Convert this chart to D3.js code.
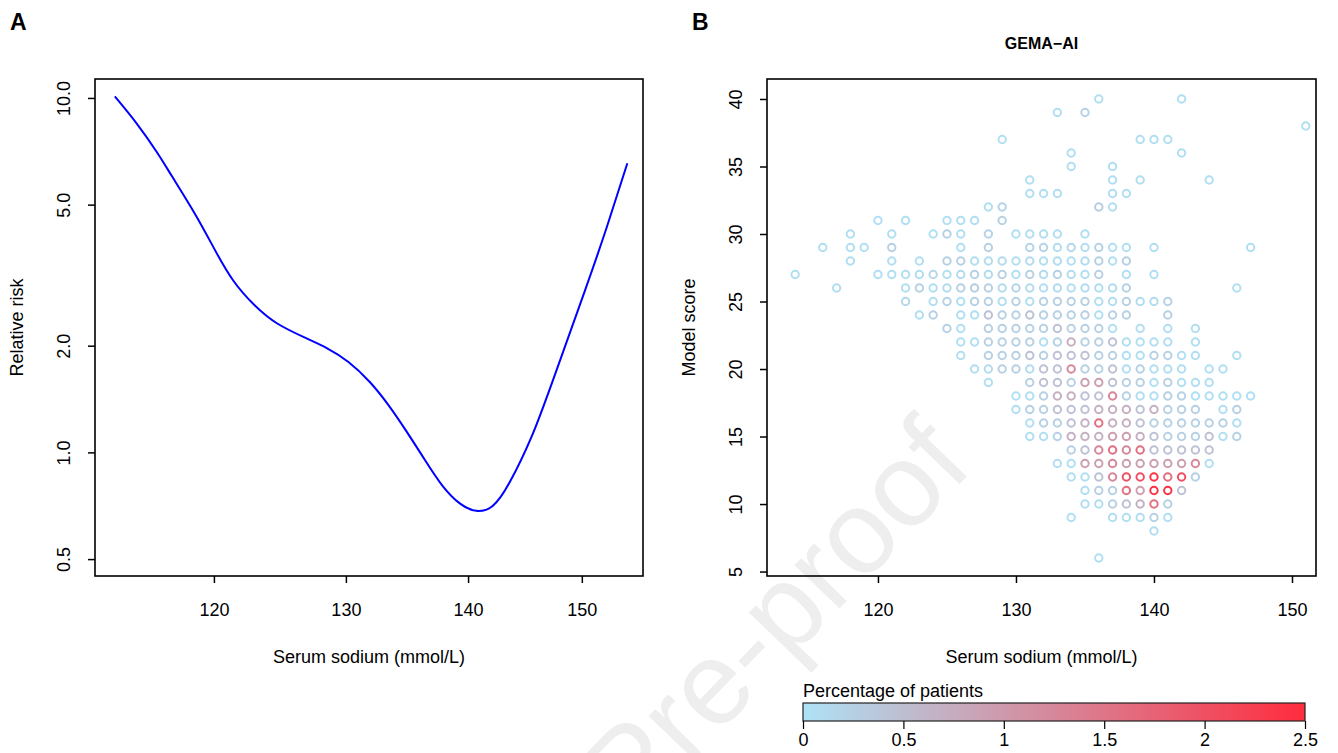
<!DOCTYPE html>
<html>
<head>
<meta charset="utf-8">
<script src="https://cdn.jsdelivr.net/npm/d3@7"></script>
<style>
  body { margin: 0; background: #fff; }
  text { font-family: "Liberation Sans", Arial, Helvetica, sans-serif; }
</style>
</head>
<body>
<div id="chart"></div>
<script>
// panel A: relative risk curve
var curveSodium = [113.0, 114.5, 115.9, 117.0, 118.6, 120.0, 121.4, 123.0, 124.7, 126.9, 128.5, 130.2,
  131.9, 133.4, 134.8, 136.3, 137.8, 139.3, 140.7, 142.1, 143.6, 145.5, 147.4, 150.3, 152.3, 154.2];
var curveRisk = [10.1, 8.48, 7.05, 6.00, 4.73, 3.77, 3.06, 2.60, 2.31, 2.10, 1.97, 1.80,
  1.58, 1.36, 1.156, 0.962, 0.809, 0.718, 0.684, 0.706, 0.826, 1.108, 1.60, 2.87, 4.33, 6.54];

var riskTicks = [0.5, 1, 2, 5, 10];
var sodiumTicks = [120, 130, 140, 150];
var scoreTicks = [5, 10, 15, 20, 25, 30, 35, 40];
var legendTicks = [0, 0.5, 1, 1.5, 2, 2.5];

// panel B: model score rows, each with [sodium, percentage of patients]
var scoreRows = [40, 39, 38, 37, 36, 35, 34, 33, 32, 31, 30, 29, 28, 27, 26, 25, 24, 23, 22, 21,
  20, 19, 18, 17, 16, 15, 14, 13, 12, 11, 10, 9, 8, 6];
var rowPoints = [
  [[136,.05],[142,.05]],
  [[133,.05],[135,.2]],
  [[151,.05]],
  [[129,.05],[139,.05],[140,.05],[141,.05]],
  [[134,.05],[142,.05]],
  [[134,.05],[137,.05]],
  [[131,.05],[137,.05],[139,.05],[144,.05]],
  [[131,.05],[132,.05],[133,.05],[137,.05],[138,.05]],
  [[128,.05],[129,.2],[136,.3],[137,.05]],
  [[120,.05],[122,.05],[125,.05],[126,.05],[127,.05],[129,.25]],
  [[118,.05],[121,.05],[124,.05],[125,.25],[126,.05],[128,.2],[130,.05],[131,.05],[132,.05],[133,.05],[135,.05]],
  [[116,.05],[118,.05],[119,.05],[121,.25],[126,.05],[128,.25],[131,.2],[132,.2],[133,.05],[134,.15],[135,.05],
   [136,.25],[137,.05],[138,.05],[140,.05],[147,.05]],
  [[118,.05],[121,.05],[123,.05],[125,.25],[126,.25],[127,.05],[128,.1],[129,.1],[130,.05],[131,.1],[132,.05],
   [133,.1],[134,.05],[135,.1],[136,.25],[137,.05],[138,.25]],
  [[114,.05],[120,.05],[121,.05],[122,.05],[123,.05],[124,.15],[125,.05],[126,.1],[127,.25],[128,.1],[129,.25],
   [130,.05],[131,.25],[132,.1],[133,.25],[134,.1],[135,.05],[136,.25],[138,.05],[140,.05]],
  [[117,.05],[122,.05],[123,.25],[124,.05],[125,.1],[126,.25],[127,.3],[128,.25],[129,.1],[130,.2],[131,.1],
   [132,.05],[133,.1],[134,.05],[135,.1],[136,.05],[137,.1],[138,.25],[146,.05]],
  [[122,.15],[124,.05],[125,.25],[126,.05],[127,.25],[128,.25],[129,.05],[130,.25],[131,.05],[132,.25],[133,.25],
   [134,.25],[135,.25],[136,.05],[137,.05],[138,.25],[139,.1],[140,.1],[141,.25]],
  [[123,.05],[124,.25],[126,.05],[127,.05],[128,.45],[129,.25],[130,.25],[131,.45],[132,.25],[133,.25],[134,.25],
   [135,.25],[136,.05],[137,.25],[138,.25],[141,.25]],
  [[125,.25],[126,.05],[128,.25],[129,.25],[130,.25],[131,.25],[132,.25],[133,.45],[134,.25],[135,.25],[136,.25],
   [137,.05],[139,.05],[141,.05],[143,.05]],
  [[126,.05],[127,.05],[128,.25],[129,.25],[130,.25],[131,.25],[132,.05],[133,.25],[134,.7],[135,.25],[136,.25],
   [137,.45],[138,.05],[139,.05],[140,.05],[141,.05],[143,.05]],
  [[126,.05],[128,.25],[129,.25],[130,.25],[131,.45],[132,.25],[133,.45],[134,.45],[135,.45],[136,.25],[137,.25],
   [138,.05],[139,.05],[140,.25],[141,.25],[142,.05],[143,.05],[146,.05]],
  [[127,.05],[128,.1],[129,.25],[130,.25],[131,.1],[132,.45],[133,.45],[134,1.25],[135,.25],[136,.25],[137,.45],
   [138,.05],[139,.25],[140,.05],[141,.05],[142,.05],[144,.05],[145,.05]],
  [[128,.05],[131,.25],[132,.45],[133,.45],[134,.25],[135,.95],[136,.95],[137,.45],[138,.25],[139,.25],[140,.05],
   [141,.25],[142,.05],[143,.05],[144,.05]],
  [[130,.05],[131,.05],[132,.25],[133,.7],[134,.7],[135,.45],[136,.45],[137,1.25],[138,.25],[139,.05],[140,.05],
   [141,.25],[142,.25],[143,.05],[144,.05],[145,.05],[146,.05],[147,.05]],
  [[130,.05],[131,.25],[132,.25],[133,.45],[134,.45],[135,.45],[136,.7],[137,.7],[138,.7],[139,.45],[140,.7],
   [141,.25],[142,.25],[143,.25],[145,.05],[146,.25]],
  [[131,.05],[132,.25],[133,.25],[134,.45],[135,.7],[136,1.6],[137,.7],[138,.7],[139,.45],[140,.25],[141,.25],
   [142,.25],[143,.25],[144,.25],[145,.25],[146,.05]],
  [[131,.05],[132,.05],[133,.25],[134,.7],[135,.7],[136,.7],[137,.95],[138,.95],[139,.7],[140,.45],[141,.25],
   [142,.25],[143,.25],[144,.45],[145,.05],[146,.25]],
  [[134,.25],[135,.45],[136,1.25],[137,1.6],[138,1.25],[139,1.6],[140,.45],[141,.45],[142,.45],[143,.45],[144,.45]],
  [[133,.05],[134,.05],[135,.95],[136,.95],[137,1.25],[138,.95],[139,.95],[140,.95],[141,.95],[142,.95],[143,1.25],[144,.05]],
  [[134,.05],[135,.05],[136,.45],[137,1.25],[138,2.0],[139,2.0],[140,2.4],[141,1.6],[142,2.0],[143,.25]],
  [[135,.05],[136,.25],[137,.25],[138,1.6],[139,.95],[140,2.4],[141,2.4],[142,.45]],
  [[135,.05],[136,.05],[137,.25],[138,.45],[139,.7],[140,1.6],[141,.25]],
  [[134,.05],[137,.05],[138,.05],[139,.05],[140,.25],[141,.05]],
  [[140,.05]],
  [[136,.05]]
];

var w = 1338, h = 753;
var fs = 18; // label font size

var svg = d3.select("#chart").append("svg")
  .attr("width", w)
  .attr("height", h);

// faint watermark behind everything
svg.append("text")
  .attr("transform", "translate(975,468) rotate(-46)")
  .attr("text-anchor", "end")
  .style("font-size", "118px")
  .attr("fill", "#eeeeee")
  .text("Journal Pre-proof");

// panel letters
svg.append("text").attr("x", 10).attr("y", 30).style("font-size", "23px").style("font-weight", "bold").text("A");
svg.append("text").attr("x", 692).attr("y", 30).style("font-size", "23px").style("font-weight", "bold").text("B");

// ---------------- panel A ----------------
var boxA = {left: 95, right: 643, top: 79, bottom: 576};
var xA = d3.scaleLog().domain([111.65, 155.67]).range([boxA.left, boxA.right]);
var yA = d3.scaleLog().domain([0.448, 11.31]).range([boxA.bottom, boxA.top]);

var line = d3.line()
  .x(function(d, i) { return xA(curveSodium[i]); })
  .y(function(d, i) { return yA(curveRisk[i]); })
  .curve(d3.curveNatural);

svg.append("path")
  .datum(curveSodium)
  .attr("d", line)
  .attr("fill", "none")
  .attr("stroke", "#0000ff")
  .attr("stroke-width", 2);

drawAxes(boxA, xA, yA, sodiumTicks, riskTicks, d3.format(".1f"), "Relative risk");

// ---------------- panel B ----------------
var boxB = {left: 767, right: 1316, top: 79, bottom: 576};
var xB = d3.scaleLinear().domain([111.96, 151.74]).range([boxB.left, boxB.right]);
var yB = d3.scaleLinear().domain([4.67, 41.48]).range([boxB.bottom, boxB.top]);

var pctColor = d3.scaleLinear()
  .domain([0, 2.5])
  .range(["#aee2f6", "#ff2c3e"])
  .interpolate(d3.interpolateRgb)
  .clamp(true);

var points = [];
scoreRows.forEach(function(s, i) {
  rowPoints[i].forEach(function(p) {
    points.push({score: s, sodium: p[0], pct: p[1]});
  });
});
// lighter circles first so darker ones stay visible
points.sort(function(a, b) { return a.pct - b.pct; });

svg.append("g").selectAll("circle")
  .data(points)
  .enter()
  .append("circle")
  .attr("cx", function(d) { return xB(d.sodium); })
  .attr("cy", function(d) { return yB(d.score); })
  .attr("r", 3.7)
  .attr("fill", "none")
  .attr("stroke", function(d) { return pctColor(d.pct); })
  .attr("stroke-width", 2);

drawAxes(boxB, xB, yB, sodiumTicks, scoreTicks, d3.format("d"), "Model score");

svg.append("text")
  .attr("x", (boxB.left + boxB.right) / 2)
  .attr("y", 49)
  .attr("text-anchor", "middle")
  .style("font-size", "16px")
  .style("font-weight", "bold")
  .text("GEMA\u2212AI");

// ---------------- colour legend ----------------
var legX = d3.scaleLinear().domain([0, 2.5]).range([803, 1305]);
var grad = svg.append("defs").append("linearGradient").attr("id", "pctgrad");
grad.selectAll("stop")
  .data(legendTicks)
  .enter()
  .append("stop")
  .attr("offset", function(d) { return (d / 2.5 * 100) + "%"; })
  .attr("stop-color", function(d) { return pctColor(d); });

svg.append("text")
  .attr("x", 803)
  .attr("y", 697)
  .style("font-size", fs + "px")
  .text("Percentage of patients");

svg.append("rect")
  .attr("x", legX(0))
  .attr("y", 703)
  .attr("width", legX(2.5) - legX(0))
  .attr("height", 18)
  .attr("fill", "url(#pctgrad)")
  .attr("stroke", "#222")
  .attr("stroke-width", 1.2);

var legAxis = d3.axisBottom(legX).tickValues(legendTicks).tickSize(8).tickFormat(d3.format(""));
var lg = svg.append("g").attr("transform", "translate(0,721)").call(legAxis);
lg.select(".domain").remove();
lg.selectAll("line").attr("stroke-width", 1.2);
lg.selectAll("text").style("font-size", fs + "px").attr("fill", "#000").attr("y", 12).attr("dy", "0.71em")
  .style("font-family", "'Liberation Sans', Arial, sans-serif");

function drawAxes(box, x, y, xticks, yticks, yfmt, ytitle) {
  var xAxis = d3.axisBottom(x).tickValues(xticks).tickSize(7).tickFormat(d3.format("d"));
  var gx = svg.append("g")
    .attr("transform", "translate(0," + box.bottom + ")")
    .call(xAxis);
  gx.select(".domain").remove();
  gx.selectAll("line").attr("stroke-width", 1.5);
  gx.selectAll("text")
    .style("font-size", fs + "px")
    .style("font-family", "'Liberation Sans', Arial, sans-serif")
    .attr("fill", "#000")
    .attr("y", 27)
    .attr("dy", "0.71em");

  var yAxis = d3.axisLeft(y).tickValues(yticks).tickSize(7).tickFormat(yfmt);
  var gy = svg.append("g")
    .attr("transform", "translate(" + box.left + ",0)")
    .call(yAxis);
  gy.select(".domain").remove();
  gy.selectAll("line").attr("stroke-width", 1.5);
  gy.selectAll("text")
    .style("font-size", fs + "px")
    .style("font-family", "'Liberation Sans', Arial, sans-serif")
    .attr("fill", "#000")
    .attr("x", null)
    .attr("dy", null)
    .attr("text-anchor", "middle")
    .attr("transform", "rotate(-90)")
    .attr("y", -25);

  // box round the plot region
  svg.append("rect")
    .attr("x", box.left)
    .attr("y", box.top)
    .attr("width", box.right - box.left)
    .attr("height", box.bottom - box.top)
    .attr("fill", "none")
    .attr("stroke", "#000")
    .attr("stroke-width", 1.6);

  svg.append("text")
    .attr("x", (box.left + box.right) / 2)
    .attr("y", 663)
    .attr("text-anchor", "middle")
    .style("font-size", fs + "px")
    .text("Serum sodium (mmol/L)");

  svg.append("text")
    .attr("transform", "translate(" + (box.left - 72) + "," + ((box.top + box.bottom) / 2) + ") rotate(-90)")
    .attr("text-anchor", "middle")
    .style("font-size", fs + "px")
    .text(ytitle);
}
</script>
</body>
</html>
